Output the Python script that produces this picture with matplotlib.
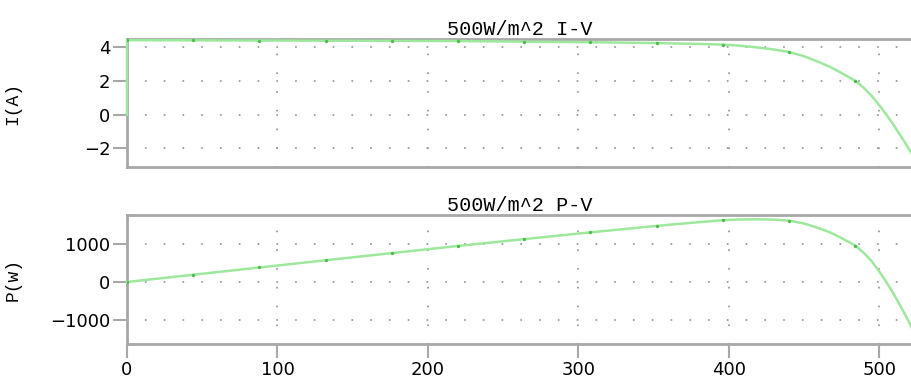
import matplotlib
matplotlib.use("Agg")
import matplotlib.pyplot as plt

# ---- data ----
voltage = [0, 0, 44, 88, 132, 176, 220, 264, 308, 352, 374, 396, 405, 418,
           430, 440, 450, 460, 467, 475, 484, 490, 495, 500, 505, 509, 513,
           517, 520, 522]
current = [0.0, 4.40, 4.39, 4.38, 4.37, 4.36, 4.35, 4.31, 4.28, 4.23, 4.19,
           4.14, 4.09, 3.98, 3.85, 3.70, 3.45, 3.10, 2.83, 2.45, 2.00, 1.55,
           1.10, 0.55, -0.05, -0.55, -1.10, -1.65, -2.10, -2.38]
power = [0, 0, 193, 385, 577, 767, 957, 1138, 1318, 1489, 1567, 1640, 1656,
         1664, 1656, 1628, 1553, 1426, 1322, 1164, 968, 760, 545, 275, -25,
         -280, -564, -853, -1092, -1242]
marker_volts = [0, 44, 88, 132, 176, 220, 264, 308, 352, 396, 440, 484]

title_iv = "500W/m^2 I-V"
title_pv = "500W/m^2 P-V"
ylabel_iv = "I(A)"
ylabel_pv = "P(w)"
x_ticks = [0, 100, 200, 300, 400, 500]
iv_ticks = [-2, 0, 2, 4]
pv_ticks = [-1000, 0, 1000]

W, H = 912, 386
fig = plt.figure(figsize=(W / 100, H / 100), dpi=100)
fig.patch.set_facecolor("white")

left = 127 / W
ax1 = fig.add_axes([left, 1 - 167.3 / H, 1 - left, (167.3 - 39) / H])
ax2 = fig.add_axes([left, 1 - 344 / H, 1 - left, (344 - 215) / H])

line_c = "#9de89d"
mark_c = "#4dbb4d"
spine_c = "#a8a8a8"
grid_c = "#9c9c9c"
mono = ["Liberation Mono", "DejaVu Sans Mono"]

for ax, y, ticks, ylim, title, ylab in [
    (ax1, current, iv_ticks, (-3.12, 4.47), title_iv, ylabel_iv),
    (ax2, power, pv_ticks, (-1645, 1778), title_pv, ylabel_pv),
]:
    ax.plot(voltage, y, color=line_c, lw=1.8, zorder=3, clip_on=False,
            solid_joinstyle="round")
    mi = [voltage.index(v, 1) if v == 0 else voltage.index(v) for v in marker_volts]
    ax.plot([voltage[i] for i in mi], [y[i] for i in mi],
            ls="none", marker="o", ms=2.4, color=mark_c, mec="none", zorder=4)
    ax.set_xlim(0, 521.7)
    ax.set_ylim(*ylim)
    ax.set_xticks(x_ticks)
    ax.set_yticks(ticks)
    ax.grid(True, color=grid_c, lw=1.5, linestyle=(0, (0.01, 9.0)),
            dash_capstyle="round")
    for s in ["left", "bottom", "top"]:
        ax.spines[s].set_color(spine_c)
        ax.spines[s].set_linewidth(2)
    ax.spines["right"].set_visible(False)
    ax.tick_params(axis="both", direction="out", length=10, width=1.5,
                   color=spine_c, labelsize=13, pad=2)
    ax.set_title(title, fontsize=14.5, family=mono, pad=3)
    ax.set_ylabel(ylab, fontsize=13, family=mono, labelpad=6)

ax1.set_xticklabels([])
ax1.tick_params(axis="x", length=0)

ax1.yaxis.set_label_coords(-(127 - 21) / (W - 127), 0.5)
ax2.yaxis.set_label_coords(-(127 - 22) / (W - 127), 0.5)

fig.savefig("out.png", dpi=100)
